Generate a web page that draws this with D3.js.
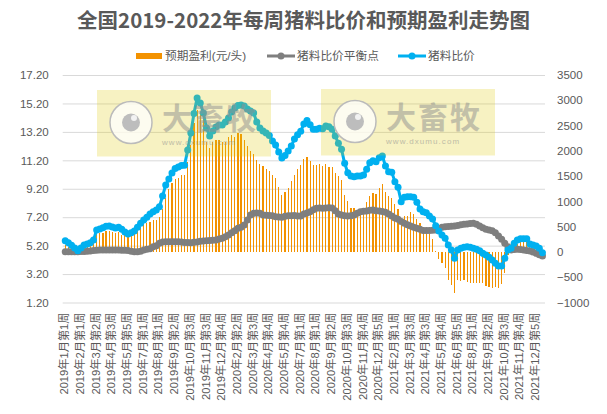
<!DOCTYPE html>
<html>
<head>
<meta charset="utf-8">
<script src="https://cdn.jsdelivr.net/npm/d3@7"></script>
<style>
  html, body { margin: 0; padding: 0; background: #fff; }
  text { font-family: "Liberation Sans", "Noto Sans CJK SC", sans-serif; fill: #595959; }
</style>
</head>
<body>
<div id="chart_area"></div>
<script>
// tick labels, one label every 5 weeks
const xLabels = [
  '2019年1月第1周', '2019年2月第1周', '2019年3月第2周', '2019年4月第3周', '2019年5月第5周', '2019年7月第1周',
  '2019年8月第1周', '2019年9月第2周', '2019年10月第3周', '2019年11月第3周', '2019年12月第4周',
  '2020年2月第2周', '2020年3月第3周', '2020年4月第4周', '2020年5月第4周', '2020年7月第1周',
  '2020年8月第1周', '2020年9月第2周', '2020年10月第3周', '2020年11月第4周', '2020年12月第5周',
  '2021年2月第1周', '2021年3月第3周', '2021年4月第3周', '2021年5月第4周', '2021年6月第5周',
  '2021年8月第1周', '2021年9月第2周', '2021年10月第3周', '2021年11月第4周', '2021年12月第5周'
];
const leftTicks = [1.2, 3.2, 5.2, 7.2, 9.2, 11.2, 13.2, 15.2, 17.2];
const rightTicks = [-1000, -500, 0, 500, 1000, 1500, 2000, 2500, 3000, 3500];

// 预期盈利(元/头)
const profit = [
  140, 100, 70, 20, 10, 20, 60, 90, 130, 200,
  375, 375, 382, 415, 415, 400, 383, 400, 336, 336,
  297, 336, 376, 435, 500, 554, 580, 600, 633, 633,
  692, 850, 1068, 1246, 1365, 1444, 1464, 1523, 1523, 1786,
  2116, 2551, 2808, 2749, 2650, 2180, 2057, 2180, 2215, 2215,
  2180, 2180, 2280, 2314, 2280, 2353, 2334, 2215, 2096, 1998,
  1938, 1820, 1740, 1700, 1641, 1602, 1523, 1464, 1285, 1127,
  1187, 1266, 1404, 1523, 1641, 1720, 1833, 1873, 1800, 1720,
  1720, 1740, 1700, 1740, 1681, 1681, 1568, 1503, 1424, 1127,
  1014, 870, 870, 810, 830, 870, 995, 1108, 1173, 1147,
  1266, 1345, 1187, 1108, 1068, 949, 856, 633, 712, 712,
  791, 751, 659, 580, 500, 400, 350, 250, 20, -138,
  -211, -316, -553, -646, -805, -553, -574, -553, -587, -607,
  -620, -620, -620, -607, -672, -686, -712, -692, -712, -633,
  -409, -60, 30, 80, 150, 190, 190, 200, 190, 130,
  110, 90, 30
];
// 猪料比价平衡点
const balance = [
  4.77, 4.77, 4.77, 4.77, 4.77, 4.78, 4.78, 4.8, 4.82, 4.85,
  4.88, 4.89, 4.89, 4.89, 4.89, 4.89, 4.89, 4.89, 4.88, 4.88,
  4.86, 4.8, 4.77, 4.77, 4.8, 4.89, 4.94, 4.98, 5.12, 5.2,
  5.36, 5.45, 5.48, 5.48, 5.48, 5.48, 5.48, 5.46, 5.42, 5.42,
  5.4, 5.44, 5.46, 5.5, 5.52, 5.55, 5.56, 5.58, 5.6, 5.66,
  5.71, 5.82, 5.95, 6.11, 6.25, 6.42, 6.5, 6.65, 7.0, 7.35,
  7.47, 7.5, 7.47, 7.35, 7.33, 7.32, 7.3, 7.23, 7.22, 7.2,
  7.26, 7.3, 7.3, 7.32, 7.28, 7.28, 7.42, 7.5, 7.59, 7.72,
  7.82, 7.84, 7.82, 7.84, 7.87, 7.85, 7.66, 7.42, 7.35, 7.3,
  7.28, 7.3, 7.35, 7.48, 7.59, 7.62, 7.63, 7.68, 7.7, 7.66,
  7.63, 7.6, 7.54, 7.42, 7.28, 7.15, 7.05, 6.9, 6.77, 6.66,
  6.58, 6.5, 6.42, 6.35, 6.27, 6.26, 6.27, 6.28, 6.3, 6.4,
  6.49, 6.52, 6.55, 6.56, 6.58, 6.62, 6.66, 6.7, 6.72, 6.75,
  6.77, 6.7, 6.58, 6.46, 6.35, 6.3, 6.25, 6.1, 5.88, 5.65,
  5.36, 5.12, 4.89, 4.92, 4.94, 4.92, 4.89, 4.86, 4.82, 4.75,
  4.66, 4.56, 4.47
];
// 猪料比价
const ratio = [
  5.55, 5.41, 5.22, 5.03, 4.84, 5.03, 5.24, 5.31, 5.41, 5.6,
  6.3, 6.37, 6.46, 6.56, 6.58, 6.51, 6.44, 6.49, 6.35, 6.16,
  6.02, 6.11, 6.23, 6.49, 6.77, 7.0, 7.19, 7.42, 7.59, 7.7,
  7.94, 8.69, 9.46, 9.88, 10.3, 10.62, 10.73, 10.83, 10.85, 11.92,
  13.12, 14.5, 15.58, 15.23, 14.53, 13.47, 12.91, 13.26, 13.54, 13.68,
  13.68, 13.89, 14.17, 14.6, 14.88, 15.05, 15.09, 15.02, 14.81, 14.67,
  14.53, 13.89, 13.47, 13.26, 13.12, 12.94, 12.56, 12.28, 11.78, 11.36,
  11.54, 11.85, 12.2, 12.7, 13.0, 13.25, 13.75, 14.0, 13.7, 13.38,
  13.38, 13.45, 13.42, 13.61, 13.56, 13.38, 12.91, 12.4, 11.97, 10.99,
  10.33, 10.1, 10.05, 10.1, 10.1, 10.17, 10.57, 11.03, 11.17, 11.1,
  11.38, 11.5, 10.8, 10.4, 10.36, 9.7, 9.3, 8.29, 8.6, 8.64,
  8.64, 8.6, 8.25, 7.78, 7.59, 7.52, 7.28, 7.07, 6.6, 6.23,
  5.95, 5.71, 5.24, 4.89, 4.31, 4.89, 5.01, 5.08, 5.12, 5.08,
  5.01, 4.94, 4.84, 4.66, 4.54, 4.38, 4.19, 3.96, 3.77, 3.77,
  4.31, 4.89, 5.01, 5.36, 5.6, 5.69, 5.69, 5.69, 5.31, 5.24,
  5.17, 5.01, 4.7
];

const width = 607;
const height = 414;
const margin = { top: 75, right: 62, bottom: 111.5, left: 62.7 };
const innerW = width - margin.left - margin.right;
const innerH = height - margin.top - margin.bottom;

const svg = d3
  .select('#chart_area')
  .append('svg')
  .attr('width', width)
  .attr('height', height)
  .style('display', 'block');

const weeks = d3.range(ratio.length);
const x = d3.scaleBand().domain(weeks).range([margin.left, margin.left + innerW]).padding(0.62);
const yLeft = d3.scaleLinear().domain([1.2, 17.2]).range([margin.top + innerH, margin.top]);
const yRight = d3.scaleLinear().domain([-1000, 3500]).range([margin.top + innerH, margin.top]);
const cx = (i) => x(i) + x.bandwidth() / 2;

// title
svg
  .append('text')
  .attr('x', 303.5)
  .attr('y', 28)
  .attr('text-anchor', 'middle')
  .attr('font-size', 20.5)
  .attr('font-weight', 700)
  .style('font-family', '"Noto Sans CJK SC", sans-serif')
  .text('全国2019-2022年每周猪料比价和预期盈利走势图');

// gridlines and left axis
const axisLeft = svg
  .append('g')
  .attr('transform', `translate(${margin.left},0)`)
  .call(
    d3
      .axisLeft(yLeft)
      .tickValues(leftTicks)
      .tickSize(-innerW)
      .tickPadding(14)
      .tickFormat(d3.format('.2f'))
  );
axisLeft.select('.domain').remove();
axisLeft.selectAll('line').attr('stroke', '#d9d9d9').attr('stroke-width', 1);
axisLeft.selectAll('text').attr('font-size', 11.5).style('fill', '#595959').style('font-family', 'inherit');

// right axis
const axisRight = svg
  .append('g')
  .attr('transform', `translate(${margin.left + innerW},0)`)
  .call(d3.axisRight(yRight).tickValues(rightTicks).tickSize(0).tickPadding(12).tickFormat(d3.format('d')));
axisRight.select('.domain').remove();
axisRight.selectAll('text').attr('font-size', 11.5).style('fill', '#595959');

// bottom axis, one label every 5 weeks
const axisBottom = svg
  .append('g')
  .attr('transform', `translate(-1,${margin.top + innerH})`)
  .call(
    d3
      .axisBottom(x)
      .tickValues(weeks.filter((i) => i % 5 === 0))
      .tickSize(0)
      .tickFormat((i) => xLabels[i / 5])
  );
axisBottom.select('.domain').remove();
axisBottom
  .selectAll('text')
  .attr('font-size', 11.2)
  .style('fill', '#595959')
  .attr('text-anchor', 'end')
  .attr('dominant-baseline', 'central')
  .attr('dy', 0)
  .attr('transform', 'translate(0,10) rotate(-90)')
  .attr('x', 0)
  .attr('y', 0);

// profit bars on the right axis
svg
  .append('g')
  .attr('shape-rendering', 'crispEdges')
  .selectAll('rect')
  .data(profit)
  .join('rect')
  .attr('x', (d, i) => x(i))
  .attr('width', x.bandwidth())
  .attr('y', (d) => Math.min(yRight(d), yRight(0)))
  .attr('height', (d) => Math.abs(yRight(d) - yRight(0)))
  .attr('fill', '#f39200');

function drawSeries(values, color) {
  const g = svg.append('g');
  g.append('path')
    .datum(values)
    .attr('fill', 'none')
    .attr('stroke', color)
    .attr('stroke-width', 3)
    .attr('stroke-linejoin', 'round')
    .attr(
      'd',
      d3
        .line()
        .x((d, i) => cx(i))
        .y((d) => yLeft(d))
    );
  g.selectAll('circle')
    .data(values)
    .join('circle')
    .attr('cx', (d, i) => cx(i))
    .attr('cy', (d) => yLeft(d))
    .attr('r', 3.5)
    .attr('fill', color);
}
drawSeries(balance, '#7f7f7f');
drawSeries(ratio, '#00b0f0');

// legend
const legend = svg.append('g');
legend.append('rect').attr('x', 136).attr('y', 53).attr('width', 26).attr('height', 6).attr('fill', '#f39200');
legend.append('text').attr('x', 165).attr('y', 60).attr('font-size', 11.7).text('预期盈利(元/头)');
[
  { x1: 267, color: '#7f7f7f', label: '猪料比价平衡点' },
  { x1: 398, color: '#00b0f0', label: '猪料比价' }
].forEach((item) => {
  legend
    .append('line')
    .attr('x1', item.x1)
    .attr('x2', item.x1 + 28)
    .attr('y1', 56)
    .attr('y2', 56)
    .attr('stroke', item.color)
    .attr('stroke-width', 3);
  legend.append('circle').attr('cx', item.x1 + 14).attr('cy', 56).attr('r', 3.5).attr('fill', item.color);
  legend
    .append('text')
    .attr('x', item.x1 + 30)
    .attr('y', 60)
    .attr('font-size', 11.7)
    .text(item.label);
});

// watermarks lie on top of the chart
[
  { x: 97, y: 90 },
  { x: 321, y: 89 }
].forEach((pos) => {
  const w = svg.append('g').attr('transform', `translate(${pos.x},${pos.y})`);
  w.append('rect')
    .attr('width', 174)
    .attr('height', 66.5)
    .attr('fill', '#dcc800')
    .attr('opacity', 0.24);
  w.append('circle')
    .attr('cx', 34)
    .attr('cy', 32.5)
    .attr('r', 21)
    .attr('fill', '#ffffff')
    .attr('fill-opacity', 0.75)
    .attr('stroke', '#bbbbbb')
    .attr('stroke-width', 1.5);
  w.append('circle').attr('cx', 34).attr('cy', 32.5).attr('r', 9).attr('fill', '#bdbdbd');
  w.append('circle').attr('cx', 37).attr('cy', 28).attr('r', 3).attr('fill', '#f2f2f2');
  w.append('text')
    .attr('x', 65)
    .attr('y', 38.5)
    .attr('font-size', 30)
    .attr('letter-spacing', 2)
    .attr('font-weight', 700)
    .style('fill', '#8f8f8f')
    .attr('opacity', 0.5)
    .style('font-family', '"Noto Sans CJK SC", sans-serif')
    .text('大畜牧');
  w.append('text')
    .attr('x', 65)
    .attr('y', 54.5)
    .attr('font-size', 8)
    .attr('letter-spacing', 1.05)
    .style('fill', '#8f8f8f')
    .attr('opacity', 0.55)
    .text('www.dxumu.com');
});
</script>
</body>
</html>
